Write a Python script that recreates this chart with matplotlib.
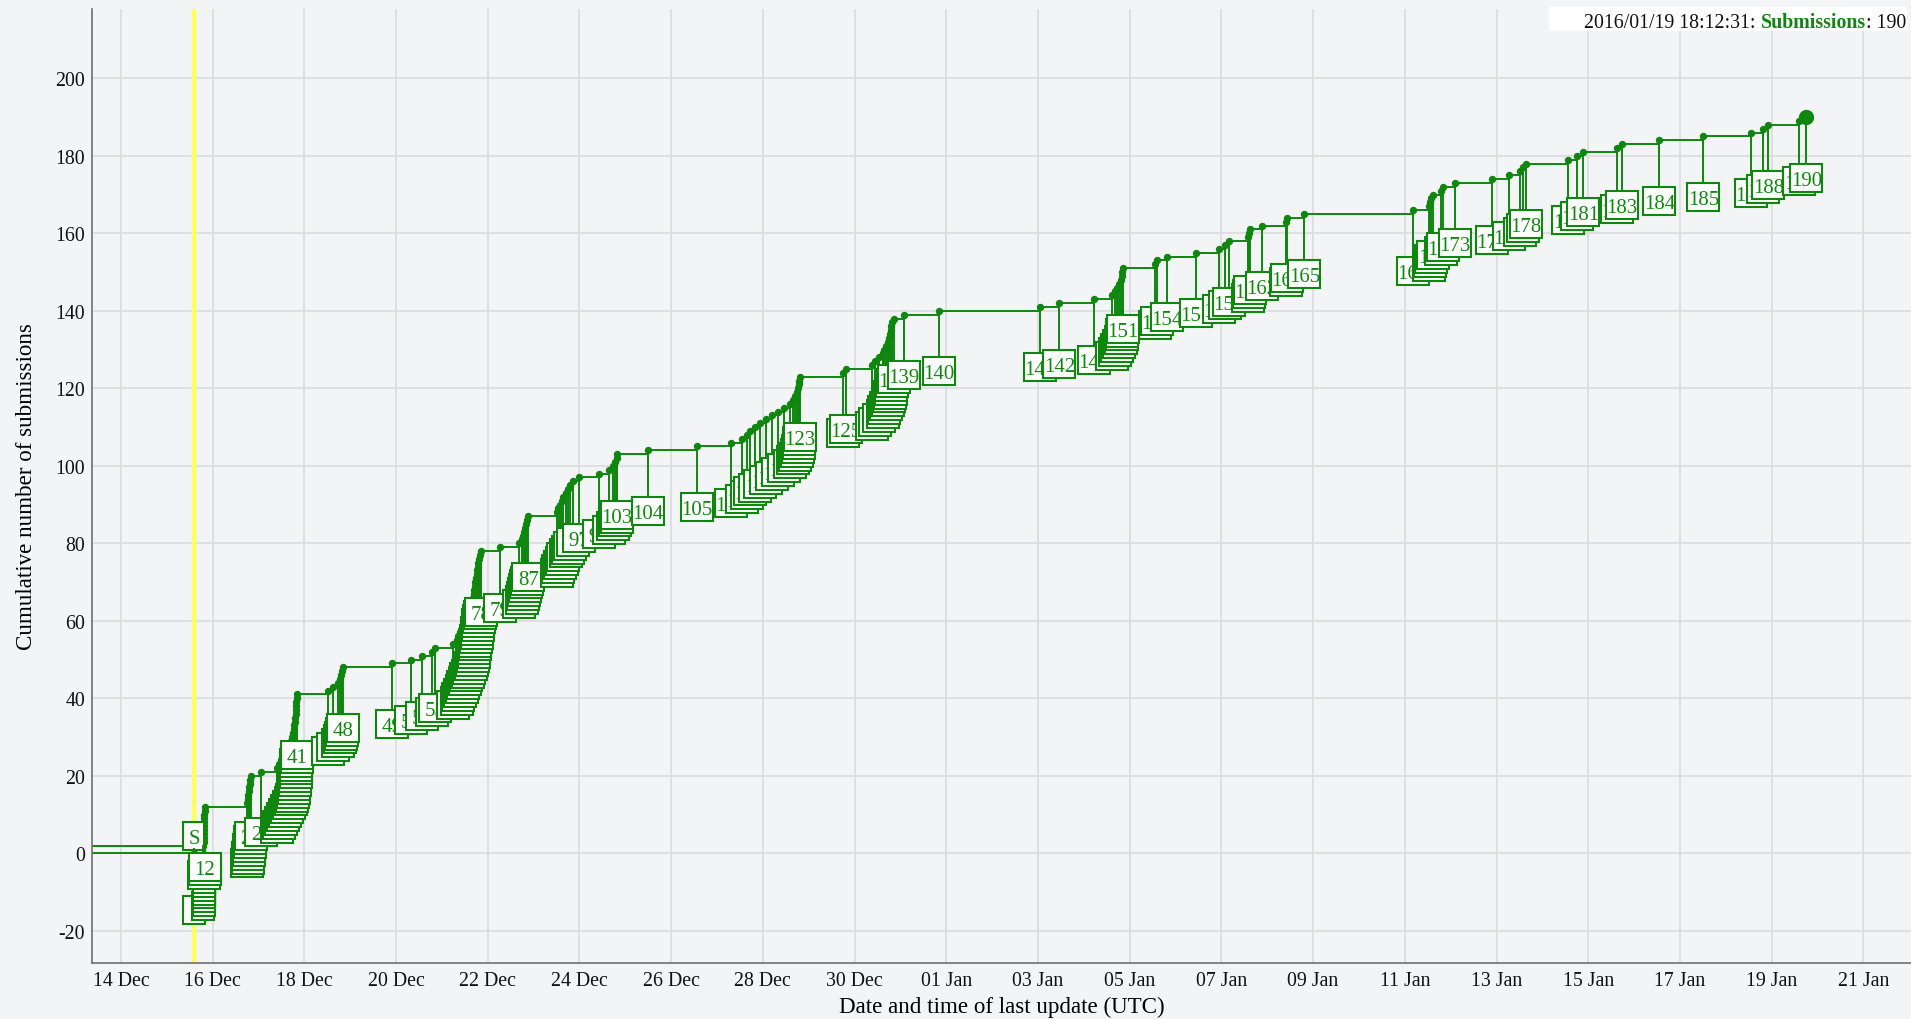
import matplotlib
matplotlib.use("Agg")
import matplotlib.pyplot as plt
import matplotlib.dates as mdates
import matplotlib.transforms as mtransforms
from matplotlib.patches import Rectangle
import pandas as pd
import numpy as np

plt.rcParams["font.family"] = ["Liberation Serif", "DejaVu Serif"]
plt.rcParams["axes.unicode_minus"] = False

# Submission times, in days after 2015-12-14 00:00 UTC (one entry per submission)
submission_days = [
    1.603, 1.799, 1.804, 1.808, 1.810, 1.812, 1.815, 1.817, 1.819, 1.821,
    1.823, 1.826, 2.755, 2.766, 2.776, 2.787, 2.798, 2.809, 2.820, 2.829,
    3.064, 3.402, 3.446, 3.490, 3.533, 3.577, 3.621, 3.664, 3.708, 3.740,
    3.762, 3.773, 3.784, 3.795, 3.801, 3.808, 3.815, 3.821, 3.828, 3.834,
    3.839, 4.521, 4.635, 4.739, 4.777, 4.798, 4.820, 4.835, 5.904, 6.325,
    6.558, 6.783, 6.848, 7.234, 7.322, 7.357, 7.394, 7.429, 7.463, 7.498,
    7.533, 7.568, 7.601, 7.634, 7.660, 7.684, 7.699, 7.710, 7.721, 7.732,
    7.743, 7.754, 7.764, 7.780, 7.793, 7.808, 7.826, 7.845, 8.266, 8.680,
    8.753, 8.774, 8.796, 8.818, 8.840, 8.861, 8.883, 9.503, 9.538, 9.575,
    9.612, 9.647, 9.706, 9.749, 9.793, 9.865, 9.996, 10.425, 10.644, 10.737,
    10.774, 10.811, 10.824, 11.488, 12.556, 13.298, 13.538, 13.660, 13.719, 13.828,
    13.937, 14.068, 14.199, 14.329, 14.460, 14.591, 14.656, 14.700, 14.733, 14.765,
    14.787, 14.798, 14.809, 15.740, 15.806, 16.373, 16.445, 16.532, 16.613, 16.648,
    16.685, 16.735, 16.750, 16.772, 16.788, 16.798, 16.809, 16.859, 17.077, 17.834,
    20.044, 20.465, 21.215, 21.607, 21.679, 21.730, 21.767, 21.804, 21.826, 21.839,
    21.847, 22.552, 22.602, 22.820, 23.440, 23.954, 24.079, 24.166, 24.587, 24.609,
    24.624, 24.886, 25.402, 25.437, 25.808, 28.172, 28.534, 28.549, 28.571, 28.622,
    28.790, 28.827, 29.095, 29.895, 30.279, 30.513, 30.571, 30.643, 31.566, 31.749,
    31.893, 32.622, 32.731, 33.551, 34.511, 35.544, 35.806, 35.928, 36.604, 36.759,
]
submission_counts = list(range(1, len(submission_days) + 1))

start_day = 1.603            # competition start marker
start_label = "S"
start_level = 1.9
start_label_level = 4.5

tick_dates = pd.date_range("2015-12-14", "2016-01-21", freq="2D")
y_ticks = [-20, 0, 20, 40, 60, 80, 100, 120, 140, 160, 180, 200]

status_time = "2016/01/19 18:12:31"
status_series = "Submissions"
status_value = 190

GREEN = "#0f870f"
BG = "#f3f4f6"
GRID = "#dcdde1"
LABEL_DROP = 15.6            # label boxes sit this many units below their point

base = mdates.date2num(pd.Timestamp("2015-12-14"))
x_vals = np.array([base + d for d in submission_days])
y_vals = np.array(submission_counts, dtype=float)

W, H, DPI = 1911, 1020, 100
fig = plt.figure(figsize=(W / DPI, H / DPI), dpi=DPI, facecolor=BG)
ax = fig.add_axes([92 / W, 56 / H, 1 - 92 / W, (964 - 10) / H])
ax.set_facecolor(BG)

x_left = base - 0.632
x_right = base + 39.04
ax.set_xlim(x_left, x_right)
ax.set_ylim(-28.3, 217.9)

ax.set_xticks([mdates.date2num(d) for d in tick_dates])
ax.xaxis.set_major_formatter(mdates.DateFormatter("%d %b"))
ax.set_yticks(y_ticks)
ax.set_yticklabels([str(v) for v in y_ticks])
ax.tick_params(axis="both", length=0, labelsize=14.3, colors="#111111")
ax.tick_params(axis="x", pad=6)
ax.tick_params(axis="y", pad=5)
ax.grid(True, color=GRID, lw=1.3)
ax.set_axisbelow(True)
for side in ("top", "right"):
    ax.spines[side].set_visible(False)
for side in ("left", "bottom"):
    ax.spines[side].set_color("#707070")
    ax.spines[side].set_linewidth(1.2)

ax.set_xlabel("Date and time of last update (UTC)", fontsize=16.6, labelpad=4)
ax.set_ylabel("Cumulative number of submissions", fontsize=16.6, labelpad=13)

# start marker
ax.axvline(base + start_day, color="#ffff5c", lw=3.2, zorder=1.5)

# cumulative step curve
step_x = np.concatenate([[x_left], x_vals])
step_y = np.concatenate([[0.0], y_vals])
ax.step(step_x, step_y, where="post", color=GREEN, lw=1.4, zorder=2)
ax.plot(x_vals, y_vals, "o", color=GREEN, ms=4.3, zorder=2.2)
ax.plot(x_vals[-1:], y_vals[-1:], "o", color=GREEN, ms=10, zorder=2.3)

# start line and its label
s_x = base + start_day
ax.plot([x_left, s_x], [start_level, start_level], color=GREEN, lw=1.4, zorder=2)


def label_box(x, y, text, z, width_px):
    h_px = 28
    tr = fig.dpi_scale_trans + mtransforms.ScaledTranslation(x, y, ax.transData)
    rect = Rectangle((-width_px / 2 / DPI, -h_px / 2 / DPI), width_px / DPI, h_px / DPI,
                     transform=tr, facecolor="white", edgecolor=GREEN, lw=1.5,
                     zorder=z, clip_on=False)
    ax.add_patch(rect)
    ax.annotate(text, xy=(x, y), xytext=(0, -7), textcoords="offset pixels",
                ha="center", va="baseline", fontsize=15, color=GREEN,
                zorder=z + 0.0005, annotation_clip=False)


label_box(s_x, start_label_level, start_label, 2.9, 22)

for i, (x, n) in enumerate(zip(x_vals, submission_counts)):
    z = 3 + i * 0.003
    yc = n - LABEL_DROP
    ax.plot([x, x], [n, yc], color=GREEN, lw=1.4, zorder=z)
    label_box(x, yc, str(n), z + 0.001, 22 if n < 10 else 32)

# status line in the top-right corner
fig.patches.append(Rectangle((1549 / W, 1 - 32 / H), (1907 - 1549) / W, 24 / H,
                             transform=fig.transFigure, facecolor="white",
                             edgecolor="none", zorder=5))
t3 = fig.text(1906 / W, 1 - 27.5 / H, f": {status_value}", ha="right", va="baseline",
              fontsize=14.3, color="#111111", zorder=6)
t2 = fig.text(0, 0, status_series, fontsize=14.3, color=GREEN, fontweight="bold", zorder=6)
t1 = fig.text(0, 0, f"{status_time}: ", fontsize=14.3, color="#111111", zorder=6)
fig.canvas.draw()
r = fig.canvas.get_renderer()
bb3 = t3.get_window_extent(r)
t2.set_position((bb3.x0 / W, 1 - 27.5 / H))
t2.set_ha("right"); t2.set_va("baseline")
fig.canvas.draw()
bb2 = t2.get_window_extent(r)
t1.set_position((bb2.x0 / W, 1 - 27.5 / H))
t1.set_ha("right"); t1.set_va("baseline")

fig.savefig("out.png", dpi=DPI, facecolor=BG)
